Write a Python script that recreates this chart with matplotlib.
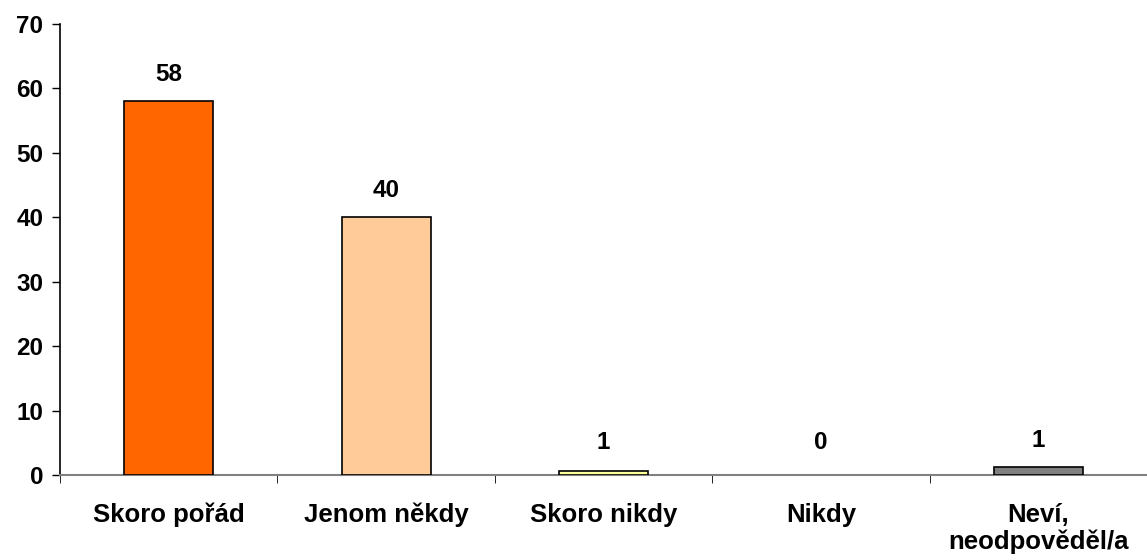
import matplotlib.pyplot as plt
import numpy as np

# Data
categories = ['Skoro pořád', 'Jenom někdy', 'Skoro nikdy', 'Nikdy', 'Neví,\nneodpověděl/a']
values = [58, 40, 0.6, 0, 1.3]
labels = ['58', '40', '1', '0', '1']
colors = ['#FF6600', '#FFCC99', '#FFFF99', '#FFFFFF', '#808080']

plt.rcParams['font.family'] = ['Liberation Sans', 'DejaVu Sans']

fig = plt.figure(figsize=(11.47, 5.6), dpi=100)
ax = fig.add_axes([60/1147, 85/560, 1087/1147, 451/560])

x = np.arange(len(categories))
edges = ['black' if v > 0 else 'none' for v in values]
ax.bar(x, values, width=0.41, color=colors, edgecolor=edges, linewidth=1.2, zorder=3)

for xi, v, lab in zip(x, values, labels):
    ax.text(xi, max(v, 1) + 2.3, lab, ha='center', va='bottom', fontsize=17.5, fontweight='bold')

ax.set_xlim(-0.5, 4.465)
ax.set_ylim(0, 70)
ax.set_yticks(range(0, 71, 10))
ax.set_yticklabels([str(t) for t in range(0, 71, 10)], fontsize=17.5, fontweight='bold')

ax.set_xticks(x)
ax.set_xticklabels(categories, fontsize=18.5, fontweight='bold', linespacing=1.15)
ax.tick_params(axis='x', length=0, pad=20)
ax.set_xticks(np.arange(-0.5, 4.6, 1), minor=True)
ax.tick_params(axis='x', which='minor', length=6, direction='out', color='black')
ax.tick_params(axis='y', length=6, direction='out', width=1, pad=6)

for s in ['top', 'right']:
    ax.spines[s].set_visible(False)
ax.spines['bottom'].set_color('#808080')
ax.spines['bottom'].set_linewidth(1.5)
ax.spines['left'].set_linewidth(1.2)

fig.savefig('out.png', dpi=100)
